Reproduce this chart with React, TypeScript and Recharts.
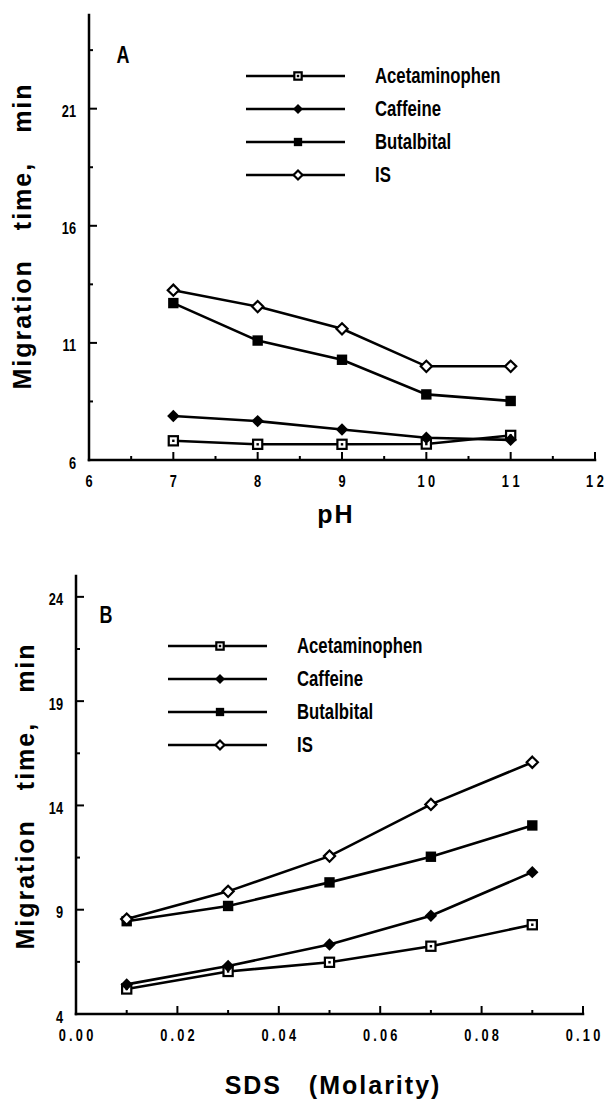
import { LineChart, Line, XAxis, YAxis, Legend } from 'recharts';

// Panel A: migration time vs pH
const phValues = [7, 8, 9, 10, 11];
const phAcetaminophen = [6.82, 6.67, 6.67, 6.68, 7.05];
const phCaffeine = [7.88, 7.66, 7.3, 6.95, 6.86];
const phButalbital = [12.7, 11.1, 10.28, 8.8, 8.52];
const phIS = [13.25, 12.55, 11.6, 10.0, 10.0];

const phTicks = [6, 6.5, 7, 7.5, 8, 8.5, 9, 9.5, 10, 10.5, 11, 11.5, 12];
const phMajor = [6, 7, 8, 9, 10, 11, 12];
const phLabels = ['6', '7', '8', '9', '1 0', '1 1', '1 2'];
const timeTicksA = [6, 8.5, 11, 13.5, 16, 18.5, 21, 23.5];
const timeMajorA = [6, 11, 16, 21];
const timeLabelsA = ['6', '11', '16', '21'];

// Panel B: migration time vs SDS concentration
const sdsValues = [0.01, 0.03, 0.05, 0.07, 0.09];
const sdsAcetaminophen = [5.2, 6.04, 6.48, 7.25, 8.28];
const sdsCaffeine = [5.42, 6.3, 7.33, 8.71, 10.8];
const sdsButalbital = [8.45, 9.18, 10.31, 11.54, 13.04];
const sdsIS = [8.55, 9.88, 11.57, 14.05, 16.07];

const sdsTicks = [0, 0.01, 0.02, 0.03, 0.04, 0.05, 0.06, 0.07, 0.08, 0.09, 0.1];
const sdsMajor = [0, 0.02, 0.04, 0.06, 0.08, 0.1];
const sdsLabels = ['0.00', '0.02', '0.04', '0.06', '0.08', '0.10'];
const timeTicksB = [4, 6.5, 9, 11.5, 14, 16.5, 19, 21.5, 24];
const timeMajorB = [4, 9, 14, 19, 24];
const timeLabelsB = ['4', '9', '14', '19', '24'];

const seriesNames = ['Acetaminophen', 'Caffeine', 'Butalbital', 'IS'];
const seriesKeys = ['acetaminophen', 'caffeine', 'butalbital', 'is'];
const markerKinds = ['openSquare', 'diamond', 'square', 'openDiamond'];

const rowsA = phValues.map((x, i) => ({
  x,
  acetaminophen: phAcetaminophen[i],
  caffeine: phCaffeine[i],
  butalbital: phButalbital[i],
  is: phIS[i],
}));

const rowsB = sdsValues.map((x, i) => ({
  x,
  acetaminophen: sdsAcetaminophen[i],
  caffeine: sdsCaffeine[i],
  butalbital: sdsButalbital[i],
  is: sdsIS[i],
}));

// no narrow face installed, so bold sans squeezed horizontally
const NARROW = "'Liberation Sans', Arial, Helvetica, sans-serif";
const WIDE = "'Liberation Sans', Arial, Helvetica, sans-serif";
const SQUEEZE = 0.8;

const axisLineStyle = { stroke: '#000', strokeWidth: 2.5, strokeLinecap: 'square' as const };

function Marker({ kind, cx, cy, scale = 1 }: { kind: string; cx: number; cy: number; scale?: number }) {
  if (cx == null || cy == null) return null;
  if (kind === 'openSquare') {
    const s = 4.6 * scale;
    return (
      <g>
        <rect x={cx - s} y={cy - s} width={2 * s} height={2 * s} fill="#fff" stroke="#000" strokeWidth={2.2} />
        <rect x={cx - 1.2} y={cy - 1.2} width={2.4} height={2.4} fill="#000" />
      </g>
    );
  }
  if (kind === 'square') {
    const s = 5.2 * scale;
    return <rect x={cx - s} y={cy - s} width={2 * s} height={2 * s} fill="#000" />;
  }
  if (kind === 'diamond') {
    const r = 6.2 * scale;
    return <polygon points={`${cx},${cy - r} ${cx + r},${cy} ${cx},${cy + r} ${cx - r},${cy}`} fill="#000" />;
  }
  const r = 5.6 * scale;
  return (
    <polygon
      points={`${cx},${cy - r} ${cx + r},${cy} ${cx},${cy + r} ${cx - r},${cy}`}
      fill="#fff" stroke="#000" strokeWidth={2.2}
    />
  );
}

function boxTick(side: string, major: number[], labels?: string[], spacing = 0) {
  return (props: any) => {
    const { x, y, payload } = props;
    const v = payload.value;
    const idx = major.findIndex((m) => Math.abs(m - v) < 1e-6);
    const len = idx >= 0 ? 8 : 4;
    let x2 = x;
    let y2 = y;
    if (side === 'bottom') y2 = y - len;
    if (side === 'top') y2 = y + len;
    if (side === 'left') x2 = x + len;
    if (side === 'right') x2 = x - len;
    const lbl = labels && idx >= 0 ? labels[idx] : null;
    const textStyle = { fontFamily: NARROW, fontWeight: 700, fontSize: 16, letterSpacing: spacing };
    return (
      <g>
        <line x1={x} y1={y} x2={x2} y2={y2} stroke="#000" strokeWidth={2} />
        {lbl && side === 'bottom' && (
          <text
            transform={`translate(${x},${y + 21}) scale(${SQUEEZE},1)`}
            x={spacing / 2} y={0} textAnchor="middle" dominantBaseline="central" fill="#000" style={textStyle}
          >
            {lbl}
          </text>
        )}
        {lbl && side === 'left' && (
          <text
            transform={`translate(${x - 13},${y + 3}) scale(${SQUEEZE},1)`}
            x={0} y={0} textAnchor="end" dominantBaseline="central" fill="#000" style={textStyle}
          >
            {lbl}
          </text>
        )}
      </g>
    );
  };
}

function LegendBox() {
  return (
    <div style={{ fontFamily: NARROW, fontWeight: 700, fontSize: 22, color: '#000' }}>
      {seriesNames.map((name, i) => (
        <div key={name} style={{ display: 'flex', alignItems: 'center', height: 33 }}>
          <svg width={99} height={16} style={{ display: 'block', flex: 'none' }}>
            <line x1={0} y1={8} x2={99} y2={8} stroke="#000" strokeWidth={2.6} />
            <Marker kind={markerKinds[i]} cx={52} cy={8} scale={0.8} />
          </svg>
          <span
            style={{
              marginLeft: 30, lineHeight: 1, display: 'inline-block', whiteSpace: 'nowrap',
              transform: `scaleX(${0.76})`, transformOrigin: 'left center',
            }}
          >
            {name}
          </span>
        </div>
      ))}
    </div>
  );
}

interface PanelProps {
  top: number;
  height: number;
  rows: any[];
  margin: { top: number; right: number; left: number; bottom: number };
  xDomain: number[];
  xTicks: number[];
  xMajor: number[];
  xLabels: string[];
  xSpacing: number;
  yDomain: number[];
  yTicks: number[];
  yMajor: number[];
  yLabels: string[];
  legendLeft: number;
  legendTop: number;
  letter: string;
  letterPos: [number, number];
  xTitle: string;
  xTitlePos: [number, number];
  yTitlePos: [number, number];
}

function Panel(p: PanelProps) {
  return (
    <div style={{ position: 'absolute', left: 0, top: p.top, width: 605, height: p.height }}>
      <LineChart width={605} height={p.height} data={p.rows} margin={p.margin}>
        <XAxis
          xAxisId="b" dataKey="x" type="number" domain={p.xDomain} ticks={p.xTicks} interval={0}
          allowDataOverflow tickSize={0} tickMargin={0} tickLine={false} axisLine={axisLineStyle}
          tick={boxTick('bottom', p.xMajor, p.xLabels, p.xSpacing)} height={30}
        />
        <XAxis
          xAxisId="t" orientation="top" dataKey="x" type="number" domain={p.xDomain} ticks={p.xTicks} interval={0}
          allowDataOverflow tickSize={0} tickMargin={0} tickLine={false} axisLine={axisLineStyle}
          tick={boxTick('top', p.xMajor)} height={0}
        />
        <YAxis
          yAxisId="l" type="number" domain={p.yDomain} ticks={p.yTicks} interval={0}
          allowDataOverflow tickSize={0} tickMargin={0} tickLine={false} axisLine={axisLineStyle}
          tick={boxTick('left', p.yMajor, p.yLabels)} width={40}
        />
        <YAxis
          yAxisId="r" orientation="right" type="number" domain={p.yDomain} ticks={p.yTicks} interval={0}
          allowDataOverflow tickSize={0} tickMargin={0} tickLine={false} axisLine={axisLineStyle}
          tick={boxTick('right', p.yMajor)} width={0}
        />
        <Legend
          layout="horizontal" verticalAlign="middle" align="center"
          wrapperStyle={{ left: p.legendLeft, top: p.legendTop, width: 300, height: 132 }}
          content={() => <LegendBox />}
        />
        {seriesKeys.map((k, i) => (
          <Line
            key={k}
            xAxisId="b"
            yAxisId="l"
            type="linear"
            dataKey={k}
            name={seriesNames[i]}
            stroke="#000"
            strokeWidth={2.6}
            isAnimationActive={false}
            activeDot={false}
            dot={(d: any) => <Marker key={`${k}-${d.index}`} kind={markerKinds[i]} cx={d.cx} cy={d.cy} />}
          />
        ))}
      </LineChart>
      <div
        style={{
          position: 'absolute', left: p.letterPos[0], top: p.letterPos[1],
          transform: `translate(-50%, -50%) scaleX(0.78)`,
          fontFamily: NARROW, fontWeight: 700, fontSize: 23, lineHeight: 1,
        }}
      >
        {p.letter}
      </div>
      <div
        style={{
          position: 'absolute', left: p.xTitlePos[0], top: p.xTitlePos[1], transform: 'translate(-50%, -50%)',
          fontFamily: WIDE, fontWeight: 700, fontSize: 25, letterSpacing: 2, whiteSpace: 'pre', lineHeight: 1,
        }}
      >
        {p.xTitle}
      </div>
      <div
        style={{
          position: 'absolute', left: p.yTitlePos[0], top: p.yTitlePos[1],
          transform: 'translate(-50%, -50%) rotate(-90deg)',
          fontFamily: WIDE, fontWeight: 700, fontSize: 25, letterSpacing: 2, wordSpacing: 20,
          whiteSpace: 'nowrap', lineHeight: 1,
        }}
      >
        Migration time, min
      </div>
    </div>
  );
}

export default function App() {
  return (
    <div style={{ position: 'absolute', left: 0, top: 0, width: 605, height: 1099, background: '#fff', color: '#000' }}>
      <Panel
        top={0}
        height={540}
        rows={rowsA}
        margin={{ top: 15, right: 10, left: 49, bottom: 50 }}
        xDomain={[6, 12]}
        xTicks={phTicks}
        xMajor={phMajor}
        xLabels={phLabels}
        xSpacing={0}
        yDomain={[6, 25]}
        yTicks={timeTicksA}
        yMajor={timeMajorA}
        yLabels={timeLabelsA}
        legendLeft={246}
        legendTop={59}
        letter="A"
        letterPos={[123, 55]}
        xTitle="pH"
        xTitlePos={[336, 514]}
        yTitlePos={[22, 236]}
      />
      <Panel
        top={540}
        height={559}
        rows={rowsB}
        margin={{ top: 36, right: 22, left: 36, bottom: 55 }}
        xDomain={[0, 0.1]}
        xTicks={sdsTicks}
        xMajor={sdsMajor}
        xLabels={sdsLabels}
        xSpacing={4}
        yDomain={[4, 25]}
        yTicks={timeTicksB}
        yMajor={timeMajorB}
        yLabels={timeLabelsB}
        legendLeft={168}
        legendTop={89}
        letter="B"
        letterPos={[106, 75]}
        xTitle={'SDS   (Molarity)'}
        xTitlePos={[333, 545]}
        yTitlePos={[25, 256]}
      />
    </div>
  );
}
